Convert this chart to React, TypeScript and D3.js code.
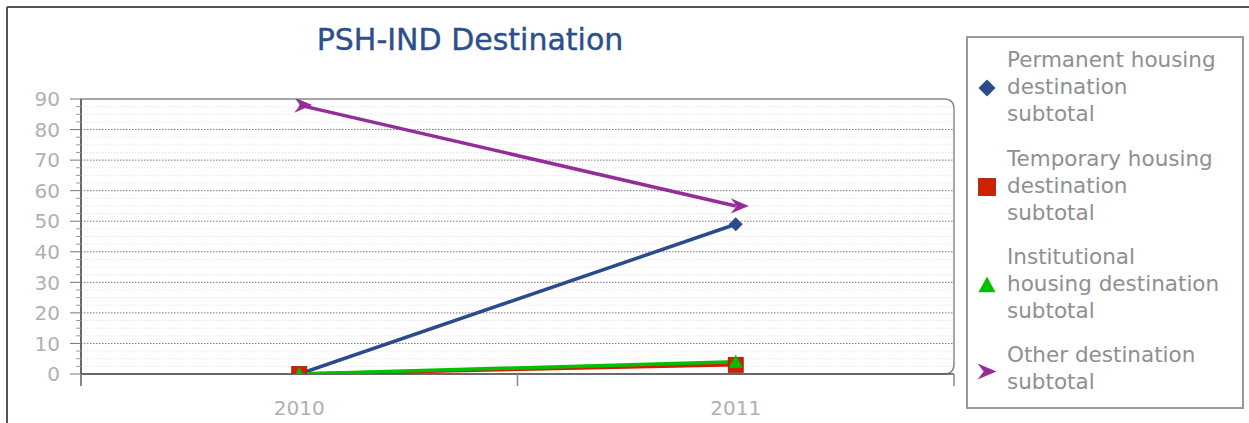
import React from "react";
import * as d3 from "d3";

const categories = ["2010", "2011"];
const permanent = [0, 49];
const temporary = [0, 3];
const institutional = [0, 4];
const other = [88, 55];
const yTicks = [0, 10, 20, 30, 40, 50, 60, 70, 80, 90];
const seriesNames = [
  ["Permanent housing", "destination", "subtotal"],
  ["Temporary housing", "destination", "subtotal"],
  ["Institutional", "housing destination", "subtotal"],
  ["Other destination", "subtotal"],
];

const W = 1249;
const H = 423;
const L = 81, R = 954, T = 99, B = 374;

const colors = {
  blue: "#2b4b8c",
  red: "#d02000",
  green: "#00c000",
  purple: "#952d98",
};

function Marker({ kind, x, y, s, color }: { kind: string; x: number; y: number; s: number; color: string }) {
  const h = s / 2;
  if (kind === "diamond") {
    return <path d={`M${x},${y - h}L${x + h},${y}L${x},${y + h}L${x - h},${y}Z`} fill={color} />;
  }
  if (kind === "square") {
    return <rect x={x - h} y={y - h} width={s} height={s} fill={color} stroke="#a01800" strokeWidth={0.8} />;
  }
  if (kind === "triangle") {
    return <path d={`M${x},${y - h}L${x + h},${y + h * 0.85}L${x - h},${y + h * 0.85}Z`} fill={color} />;
  }
  // arrow pointing right
  return (
    <path
      d={`M${x + h},${y}L${x - h},${y - h * 0.85}L${x - h * 0.35},${y}L${x - h},${y + h * 0.85}Z`}
      fill={color}
    />
  );
}

export default function App() {
  const x = d3.scaleBand<string>().domain(categories).range([L, R]);
  const y = d3.scaleLinear().domain([0, 90]).range([B, T]);
  const cx = (c: string) => (x(c) as number) + x.bandwidth() / 2;
  const minor = d3.range(0, 90.01, 2.5).filter((v) => v % 10 !== 0);

  const series = [
    { vals: permanent, color: colors.blue, kind: "diamond", size: 14 },
    { vals: temporary, color: colors.red, kind: "square", size: 15 },
    { vals: institutional, color: colors.green, kind: "triangle", size: 14 },
    { vals: other, color: colors.purple, kind: "arrow", size: 18 },
  ];
  const line = d3
    .line<number>()
    .x((_, i) => cx(categories[i]))
    .y((v) => y(v));

  const xTickPos = [L, L + x.bandwidth(), R];

  const legendBase = [67, 166, 264, 362];
  const lh = 27;

  return (
    <svg
      width={W}
      height={H}
      style={{ position: "absolute", left: 0, top: 0, background: "#fff" }}
      fontFamily="DejaVu Sans, Verdana, sans-serif"
    >
      <defs>
        <clipPath id="plotclip">
          <rect x={L} y={T} width={R - L} height={B - T} />
        </clipPath>
      </defs>
      {/* outer frame */}
      <line x1={7} y1={7} x2={W} y2={7} stroke="#555" strokeWidth={2} />
      <line x1={7} y1={7} x2={7} y2={H} stroke="#555" strokeWidth={2} />

      {/* title */}
      <text x={470} y={50} textAnchor="middle" fontSize={30} fill="#2c4f8c" stroke="#2c4f8c" strokeWidth={0.4}>
        PSH-IND Destination
      </text>

      {/* plot bg */}
      <path
        d={`M${L},${B}L${L},${T}L${R - 10},${T}Q${R},${T} ${R},${T + 10}L${R},${B - 10}Q${R},${B} ${R - 10},${B}Z`}
        fill="#fff"
        stroke="#8a8a8a"
        strokeWidth={1.5}
      />
      {/* minor grid */}
      {minor.map((v) => (
        <line key={"m" + v} x1={L} x2={R} y1={y(v)} y2={y(v)} stroke="#e8e8e8" strokeWidth={1} strokeDasharray="1.5,1.5" />
      ))}
      {/* major grid */}
      {yTicks
        .filter((v) => v !== 0 && v !== 90)
        .map((v) => (
          <line key={"g" + v} x1={L} x2={R} y1={y(v)} y2={y(v)} stroke="#777" strokeWidth={1} strokeDasharray="1.5,1.5" />
        ))}

      {/* axes */}
      <line x1={L} x2={R} y1={B} y2={B} stroke="#555" strokeWidth={1.5} />
      <line x1={L} x2={L} y1={T} y2={B + 12} stroke="#555" strokeWidth={1.5} />
      {yTicks.map((v) => (
        <line key={"t" + v} x1={L - 11} x2={L} y1={y(v)} y2={y(v)} stroke="#777" strokeWidth={1} />
      ))}
      {minor.map((v) => (
        <line key={"mt" + v} x1={L - 5} x2={L} y1={y(v)} y2={y(v)} stroke="#999" strokeWidth={1} />
      ))}
      {xTickPos.map((p, i) => (
        <line key={"xt" + i} x1={p} x2={p} y1={B} y2={B + 12} stroke="#888" strokeWidth={1.5} />
      ))}
      {yTicks.map((v) => (
        <text key={"yl" + v} x={60} y={y(v)} dy="0.36em" textAnchor="end" fontSize={20} fill="#b0b0b0">
          {v}
        </text>
      ))}
      {categories.map((c) => (
        <text key={"xl" + c} x={cx(c)} y={415} textAnchor="middle" fontSize={20} fill="#b0b0b0">
          {c}
        </text>
      ))}

      {/* series */}
      <g clipPath="url(#plotclip)">
        {series.map((s, i) => (
          <path key={"l" + i} d={line(s.vals) as string} fill="none" stroke={s.color} strokeWidth={3.5} />
        ))}
        {series.map((s, i) =>
          s.vals.map((v, j) => (
            <Marker
              key={"mk" + i + "-" + j}
              kind={s.kind}
              x={cx(categories[j]) + (s.kind === "arrow" ? 4 : 0)}
              y={y(v)}
              s={s.size}
              color={s.color}
            />
          ))
        )}
      </g>

      {/* legend */}
      <rect x={967} y={37} width={276} height={371} fill="#fff" stroke="#999" strokeWidth={2} />
      {seriesNames.map((lines, i) => {
        const base = legendBase[i];
        const my = base + ((lines.length - 1) * lh) / 2 - 6 + (i === 3 ? 2 : 0);
        const s = series[i];
        return (
          <g key={"lg" + i}>
            <Marker kind={s.kind} x={987} y={my} s={s.kind === "arrow" ? 19 : 17} color={s.color} />
            {lines.map((t, k) => (
              <text key={k} x={1007} y={base + k * lh} fontSize={21.5} fill="#8f8f8f">
                {t}
              </text>
            ))}
          </g>
        );
      })}
    </svg>
  );
}
